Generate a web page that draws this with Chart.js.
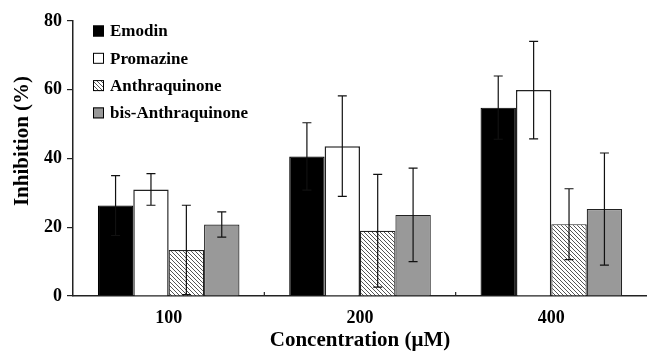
<!DOCTYPE html>
<html>
<head>
<meta charset="utf-8">
<script src="https://cdn.jsdelivr.net/npm/chart.js@4"></script>
<style>
  html, body { margin: 0; padding: 0; background: #fff; }
  #wrap { width: 647px; height: 353px; }
</style>
</head>
<body>
<div id="wrap"><canvas id="chart" width="647" height="353"></canvas></div>
<script>
var concentrations = ['100', '200', '400'];
var emodin = [26.3, 40.6, 54.8];
var emodinErr = [8.7, 9.8, 9.2];
var promazine = [31.0, 43.6, 59.9];
var promazineErr = [4.6, 14.6, 14.2];
var anthraquinone = [13.4, 19.0, 20.9];
var anthraquinoneErr = [13.0, 16.4, 10.3];
var bisAnthraquinone = [20.8, 23.6, 25.3];
var bisAnthraquinoneErr = [3.7, 13.6, 16.3];
var yTicks = [0, 20, 40, 60, 80];

var serif = '"Liberation Serif", "DejaVu Serif", serif';

// diagonal hatch for the anthraquinone bars
function makeHatch() {
    var c = document.createElement('canvas');
    c.width = 4; c.height = 4;
    var g = c.getContext('2d');
    g.fillStyle = '#fff';
    g.fillRect(0, 0, 4, 4);
    g.strokeStyle = '#555';
    g.lineWidth = 1;
    g.beginPath();
    g.moveTo(0, 0); g.lineTo(4, 4);
    g.moveTo(-1, 3); g.lineTo(1, 5);
    g.moveTo(3, -1); g.lineTo(5, 1);
    g.stroke();
    return g.createPattern(c, 'repeat');
}

var ctx = document.getElementById('chart').getContext('2d');
var hatch = makeHatch();

var errors = [emodinErr, promazineErr, anthraquinoneErr, bisAnthraquinoneErr];

var errorBars = {
    id: 'errorBars',
    afterDatasetsDraw: function (chart) {
        var c = chart.ctx;
        var y = chart.scales.y;
        c.save();
        c.strokeStyle = '#111';
        c.lineWidth = 1.2;
        chart.data.datasets.forEach(function (ds, i) {
            var meta = chart.getDatasetMeta(i);
            meta.data.forEach(function (bar, j) {
                var v = ds.data[j], e = errors[i][j];
                var top = y.getPixelForValue(v + e);
                var bot = y.getPixelForValue(Math.max(v - e, 0));
                c.beginPath();
                c.moveTo(bar.x, top); c.lineTo(bar.x, bot);
                c.moveTo(bar.x - 4.5, top); c.lineTo(bar.x + 4.5, top);
                c.moveTo(bar.x - 4.5, bot); c.lineTo(bar.x + 4.5, bot);
                c.stroke();
            });
        });
        c.restore();
    }
};

var axesAndLegend = {
    id: 'axesAndLegend',
    afterDraw: function (chart) {
        var c = chart.ctx;
        var area = chart.chartArea;
        var x = chart.scales.x;
        c.save();
        // small inner ticks between categories
        c.strokeStyle = '#222';
        c.lineWidth = 1.2;
        var step = x.getPixelForValue(1) - x.getPixelForValue(0);
        for (var k = 1; k < concentrations.length; k++) {
            var px = x.getPixelForValue(k) - step / 2;
            c.beginPath();
            c.moveTo(px, area.bottom); c.lineTo(px, area.bottom - 4);
            c.stroke();
        }
        // y axis title, sits a bit above the middle like the original
        c.fillStyle = '#000';
        c.font = 'bold 21px ' + serif;
        c.textAlign = 'center';
        c.textBaseline = 'middle';
        c.translate(23, 141);
        c.rotate(-Math.PI / 2);
        c.fillText('Inhibition (%)', 0, 0);
        c.setTransform(1, 0, 0, 1, 0, 0);
        // legend inside the plot
        c.font = 'bold 17px ' + serif;
        c.textAlign = 'left';
        chart.data.datasets.forEach(function (ds, i) {
            var ly = 31 + i * 27.3;
            c.fillStyle = ds.backgroundColor;
            c.fillRect(93, ly - 5.5, 11, 11);
            c.strokeStyle = '#000';
            c.lineWidth = 1;
            c.strokeRect(93.5, ly - 5, 10, 10);
            c.fillStyle = '#000';
            c.fillText(ds.label, 110, ly + 1);
        });
        c.restore();
    }
};

new Chart(ctx, {
    type: 'bar',
    data: {
        labels: concentrations,
        datasets: [{
            label: 'Emodin',
            data: emodin,
            backgroundColor: '#000',
            borderColor: '#000',
            borderWidth: 1.2
        }, {
            label: 'Promazine',
            data: promazine,
            backgroundColor: '#fff',
            borderColor: '#222',
            borderWidth: 1.5
        }, {
            label: 'Anthraquinone',
            data: anthraquinone,
            backgroundColor: hatch,
            borderColor: '#222',
            borderWidth: 1.2
        }, {
            label: 'bis-Anthraquinone',
            data: bisAnthraquinone,
            backgroundColor: '#999',
            borderColor: '#222',
            borderWidth: 1.2
        }]
    },
    options: {
        responsive: false,
        animation: false,
        layout: { padding: { top: 21, right: 0, left: 0, bottom: 0 } },
        datasets: {
            bar: { categoryPercentage: 0.74, barPercentage: 1.0 }
        },
        plugins: {
            legend: { display: false },
            tooltip: { enabled: false }
        },
        scales: {
            x: {
                border: { display: true, color: '#222', width: 1.5 },
                grid: { display: false },
                ticks: {
                    color: '#000',
                    font: { family: serif, size: 18, weight: 'bold' },
                    padding: 4
                },
                title: {
                    display: true,
                    text: 'Concentration (μM)',
                    color: '#000',
                    font: { family: serif, size: 21, weight: 'bold' },
                    padding: { top: 7, bottom: 0 }
                },
                afterFit: function (s) { s.height = 57; }
            },
            y: {
                min: 0,
                max: 80,
                afterBuildTicks: function (s) {
                    s.ticks = yTicks.map(function (v) { return { value: v }; });
                },
                border: { display: true, color: '#222', width: 1.5 },
                grid: {
                    display: true,
                    drawOnChartArea: false,
                    drawTicks: true,
                    tickLength: 6,
                    color: '#222',
                    lineWidth: 1.2
                },
                ticks: {
                    color: '#000',
                    font: { family: serif, size: 18, weight: 'bold' },
                    padding: 5
                },
                afterFit: function (s) { s.width = 73; }
            }
        }
    },
    plugins: [errorBars, axesAndLegend]
});
</script>
</body>
</html>
